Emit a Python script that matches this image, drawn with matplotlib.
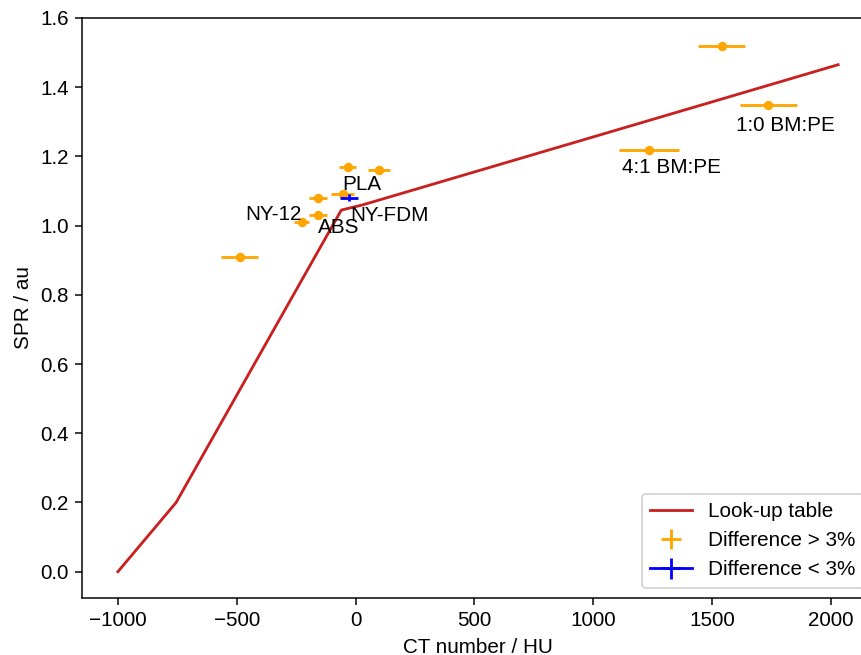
import matplotlib.pyplot as plt
import numpy as np

plt.rcParams["font.family"] = ["Liberation Sans", "DejaVu Sans"]
plt.rcParams["font.size"] = 11

# look-up table (HU -> SPR)
lut_hu = [-1000, -755, -60, 30, 2030]
lut_spr = [0.0, 0.2, 1.045, 1.06, 1.465]

# measured materials, difference > 3 %
hi_hu = [-487, -227, -157, -157, -55, -34, 98, 1540, 1736, 1235]
hi_spr = [0.91, 1.01, 1.03, 1.08, 1.09, 1.17, 1.16, 1.52, 1.35, 1.22]
hi_xerr = [78, 30, 37, 37, 47, 37, 47, 98, 119, 125]
hi_yerr = [0.005] * len(hi_hu)

# difference < 3 %
lo_hu = [-28]
lo_spr = [1.08]
lo_xerr = [37]
lo_yerr = [0.01]

labels = ["PLA", "NY-12", "ABS", "NY-FDM", "1:0 BM:PE", "4:1 BM:PE"]
label_hu = [-55, -466, -157, -24, 1600, 1119]
label_spr = [1.104, 1.017, 0.979, 1.012, 1.273, 1.152]

fig = plt.figure(figsize=(861 / 135, 655 / 135), dpi=135)
ax = fig.add_axes([82 / 861, 57 / 655, 792 / 861, 580 / 655])

ax.plot(lut_hu, lut_spr, color="#c8201f", label="Look-up table")
ax.errorbar(hi_hu, hi_spr, xerr=hi_xerr, yerr=hi_yerr, fmt="none",
            color="orange", label="Difference > 3%")
ax.plot(hi_hu, hi_spr, "o", ms=4, color="orange")
ax.errorbar(lo_hu, lo_spr, xerr=lo_xerr, yerr=lo_yerr,
            color="blue", label="Difference < 3%")

for t, x, y in zip(labels, label_hu, label_spr):
    ax.text(x, y, t)

ax.set_xlim(-1151, 2181)
ax.set_ylim(-0.076, 1.596)
ax.set_xticks(np.arange(-1000, 2001, 500))
ax.set_yticks(np.arange(0, 1.61, 0.2))
ax.set_xlabel("CT number / HU")
ax.set_ylabel("SPR / au")
ax.legend(loc="lower right")

fig.savefig("out.png", dpi=135)
